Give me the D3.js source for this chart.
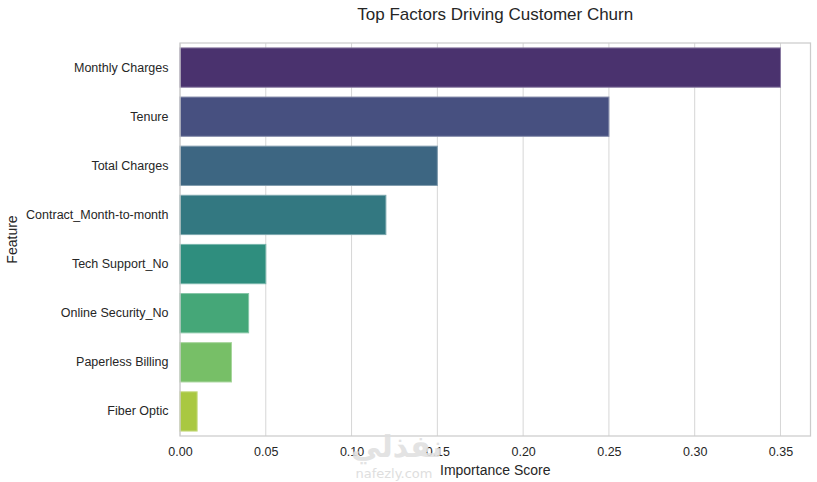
<!DOCTYPE html>
<html>
<head>
<meta charset="utf-8">
<script src="https://cdn.jsdelivr.net/npm/d3@7"></script>
<style>
  html, body { margin: 0; padding: 0; background: #fff; }
  svg { display: block; font-family: "Liberation Sans", Arial, sans-serif; }
</style>
</head>
<body>
<svg id="chart" width="817" height="482"></svg>
<script>
const features = ["Monthly Charges", "Tenure", "Total Charges", "Contract_Month-to-month",
                  "Tech Support_No", "Online Security_No", "Paperless Billing", "Fiber Optic"];
const importance = [0.35, 0.25, 0.15, 0.12, 0.05, 0.04, 0.03, 0.01];
const paletteBase = ["#482878", "#3e4989", "#31688e", "#26828e", "#1f9e89", "#35b779", "#6ece58", "#b5de2b"];
const xTicks = [0, 0.05, 0.10, 0.15, 0.20, 0.25, 0.30, 0.35];
const titleText = "Top Factors Driving Customer Churn";
const xLabel = "Importance Score";
const yLabel = "Feature";

const W = 817, H = 482;
const m = { left: 180, right: 6.5, top: 43, bottom: 46 };
const svg = d3.select("#chart");
const textColor = "#262626";
const gridColor = "#d6d6d6";

const x = d3.scaleLinear().domain([0, d3.max(importance) * 1.05]).range([m.left, W - m.right]);
const y = d3.scaleBand().domain(features).range([m.top, H - m.bottom]).paddingInner(0.2).paddingOuter(0.1);

// desaturate like seaborn (saturation 0.75)
const colors = paletteBase.map(c => { const h = d3.hsl(c); h.s *= 0.75; return h.formatHex(); });

// gridlines
svg.append("g").selectAll("line").data(xTicks).join("line")
  .attr("x1", d => x(d)).attr("x2", d => x(d))
  .attr("y1", m.top).attr("y2", H - m.bottom)
  .attr("stroke", gridColor).attr("stroke-width", 1);

// bars
svg.append("g").selectAll("rect").data(features).join("rect")
  .attr("x", x(0))
  .attr("y", d => y(d))
  .attr("width", (d, i) => x(importance[i]) - x(0))
  .attr("height", y.bandwidth())
  .attr("fill", (d, i) => colors[i])
  .attr("stroke", (d, i) => d3.interpolateRgb(colors[i], "#ffffff")(0.35))
  .attr("stroke-width", 1);

// frame
svg.append("rect")
  .attr("x", x.range()[0]).attr("y", m.top)
  .attr("width", x.range()[1] - x.range()[0]).attr("height", H - m.bottom - m.top)
  .attr("fill", "none").attr("stroke", "#cccccc").attr("stroke-width", 1.25);

// x axis
const gx = svg.append("g").attr("transform", `translate(0,${H - m.bottom})`)
  .call(d3.axisBottom(x).tickValues(xTicks).tickFormat(d3.format(".2f")).tickSize(0).tickPadding(11));
gx.select(".domain").remove();
gx.selectAll("text").attr("fill", textColor).style("font-size", "12.5px")
  .style("font-family", "'Liberation Sans', Arial, sans-serif");

// y axis
const gy = svg.append("g").attr("transform", `translate(${m.left},0)`)
  .call(d3.axisLeft(y).tickSize(0).tickPadding(11.5));
gy.select(".domain").remove();
gy.selectAll("text").attr("fill", textColor).style("font-size", "12.5px")
  .style("font-family", "'Liberation Sans', Arial, sans-serif");

// title
svg.append("text").attr("x", (x.range()[0] + x.range()[1]) / 2).attr("y", 20)
  .attr("text-anchor", "middle").attr("fill", textColor)
  .style("font-size", "17px").text(titleText);

// axis labels
svg.append("text").attr("x", (x.range()[0] + x.range()[1]) / 2).attr("y", 475)
  .attr("text-anchor", "middle").attr("fill", textColor)
  .style("font-size", "14px").text(xLabel);

svg.append("text")
  .attr("transform", `translate(16.5,${(m.top + H - m.bottom) / 2}) rotate(-90)`)
  .attr("text-anchor", "middle").attr("fill", textColor)
  .style("font-size", "14px").text(yLabel);

// watermark
svg.append("text").attr("x", 397).attr("y", 457).attr("text-anchor", "middle")
  .attr("fill", "#e0e0e0").attr("opacity", 0.9)
  .style("font-family", "'DejaVu Sans', sans-serif").style("font-weight", "bold")
  .style("font-size", "30px").text("نفذلي");
svg.append("text").attr("x", 394).attr("y", 478).attr("text-anchor", "middle")
  .attr("fill", "#dedede")
  .style("font-family", "'DejaVu Sans', sans-serif")
  .style("font-size", "13px").text("nafezly.com");
</script>
</body>
</html>
